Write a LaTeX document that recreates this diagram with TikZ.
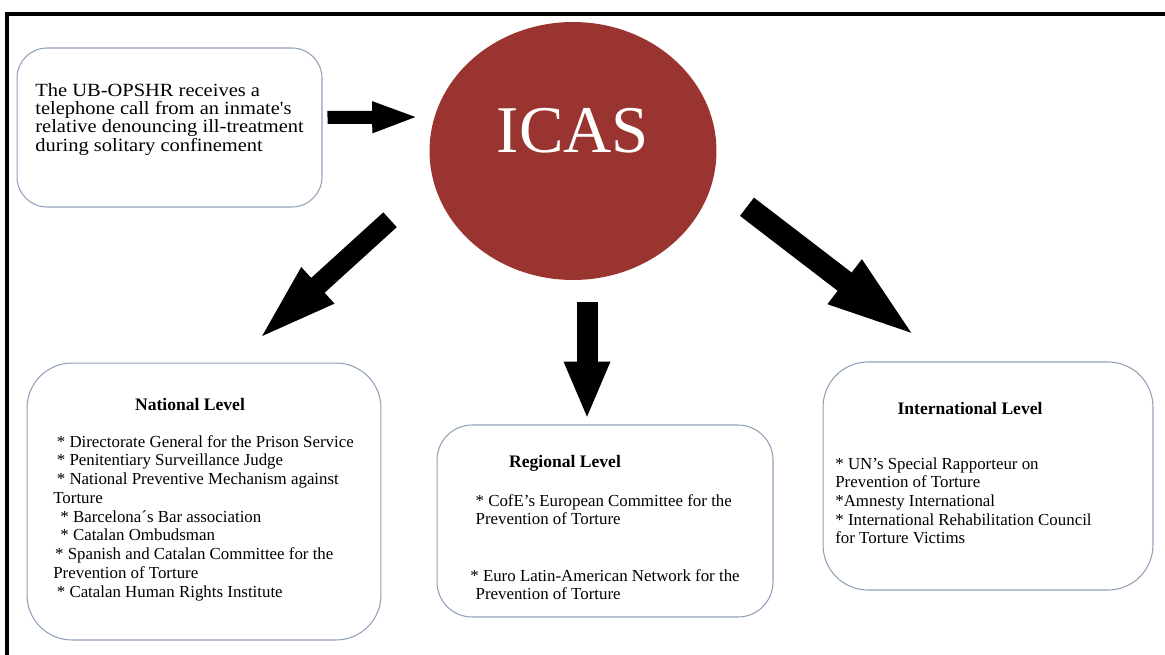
\documentclass[tikz,border=0pt]{standalone}
\usepackage{fontspec}
\setmainfont{Liberation Serif}
\newfontfamily\widefont{Liberation Serif}[FakeStretch=1.1]
\usetikzlibrary{calc, shapes.geometric, arrows.meta}
\definecolor{icasred}{HTML}{9A3430}
\definecolor{boxline}{HTML}{8FA0B8}

\begin{document}
\begin{tikzpicture}[
    x=0.02cm, y=-0.02cm,
    levelbox/.style={draw=boxline, line width=0.6pt, rectangle, rounded corners=0.8cm},
    heading/.style={inner sep=0pt, font=\fontsize{10}{12}\selectfont\bfseries},
    itemlist/.style={inner sep=0pt, anchor=north west, align=left, font=\fontsize{9.6}{10.66}\selectfont},
    fatarrow/.style={draw=black, line width=#1}
]
\useasboundingbox (0,0) rectangle (1165,655);
\draw[line width=0.07cm] (7,655) |- (1165,14);

\node[levelbox, rounded corners=0.6cm, minimum width=6.1cm, minimum height=3.18cm] (report) at (169.5,127.5) {};
\node[anchor=north west, inner sep=0pt, align=left, font=\widefont\fontsize{10.6}{10.4}\selectfont] (reporttext) at (35,83) {The UB-OPSHR receives a\\telephone call from an inmate's\\relative denouncing ill-treatment\\during solitary confinement};

\node[ellipse, fill=icasred, minimum width=5.74cm, minimum height=5.16cm, inner sep=0pt, text=white, font=\fontsize{38}{40}\selectfont, text height=26pt, text depth=24pt] (icas) at (573,151) {ICAS};

\node[levelbox, rounded corners=0.9cm, minimum width=7.08cm, minimum height=5.54cm] (natl) at (204,501.5) {};
\node[heading] (natltitle) at (190,404) {National Level};
\node[itemlist] (natllist) at (53,435) {\hspace{2pt}* Directorate General for the Prison Service\\
\hspace{2pt}* Penitentiary Surveillance Judge\\
\hspace{2pt}* National Preventive Mechanism against\\
Torture\\
\hspace{4pt}* Barcelona´s Bar association\\
\hspace{4pt}* Catalan Ombudsman\\
\hspace{1pt}* Spanish and Catalan Committee for the\\
Prevention of Torture\\
\hspace{2pt}* Catalan Human Rights Institute};

\node[levelbox, rounded corners=0.7cm, minimum width=6.72cm, minimum height=3.84cm] (regl) at (605,521) {};
\node[heading] (regltitle) at (565,463) {Regional Level};
\node[itemlist] (regllist) at (470,494) {\hspace{3pt}* CofE's European Committee for the\\
\hspace{3pt}Prevention of Torture\\[21.3pt]
* Euro Latin-American Network for the\\
\hspace{3pt}Prevention of Torture};

\node[levelbox, rounded corners=0.9cm, minimum width=6.6cm, minimum height=4.56cm] (intl) at (988,476) {};
\node[heading] (intltitle) at (970,408) {International Level};
\node[itemlist] (intllist) at (835,457) {* UN's Special Rapporteur on\\
Prevention of Torture\\
*Amnesty International\\
* International Rehabilitation Council\\
for Torture Victims};

% arrows
\draw[fatarrow=0.26cm, -{Triangle[length=0.94cm, width=0.56cm]}] ($(report.east)+(5,-10)$) -- ($(icas.west)+(-10,-34)$);
\draw[fatarrow=0.4cm, -{Triangle[length=1.7cm, width=0.84cm]}] ($(icas.192)+(-43,39)$) -- ($(natl.north)+(51,-20)$);
\draw[fatarrow=0.42cm, -{Triangle[length=1.16cm, width=0.84cm]}] ($(icas.south)+(14,22)$) -- ($(regl.north)+(-18,-5)$);
\draw[fatarrow=0.46cm, -{Triangle[length=1.9cm, width=0.96cm]}] ($(icas.-12)+(34,26)$) -- ($(intl.north)+(-68,-22)$);

\end{tikzpicture}
\end{document}
